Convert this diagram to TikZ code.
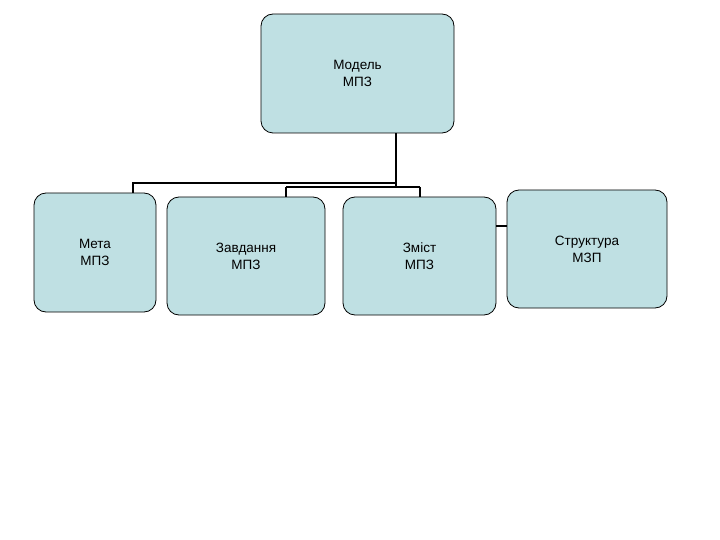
\documentclass[tikz,border=0pt]{standalone}
\usepackage{fontspec}
\setmainfont{Liberation Sans}
\definecolor{boxc}{HTML}{BFE0E3}
\begin{document}
\begin{tikzpicture}[x=1pt,y=-1pt,
 bx/.style={draw,thick,fill=boxc,rounded corners=12pt,align=center,font=\fontsize{13.5}{17}\selectfont,inner sep=0pt},
 ln/.style={line width=1.8pt}]
\useasboundingbox (0,0) rectangle (720,540);
\node[bx,minimum width=193pt,minimum height=119pt] (m) at (357.5,73.5) {Модель\\МПЗ};
\node[bx,minimum width=122pt,minimum height=119pt] (a) at (95,252.5) {Мета\\МПЗ};
\node[bx,minimum width=158pt,minimum height=118pt] (b) at (246,256) {Завдання\\МПЗ};
\node[bx,minimum width=153pt,minimum height=118pt] (c) at (419.5,256) {Зміст\\МПЗ};
\node[bx,minimum width=160pt,minimum height=118pt] (d) at (587,249) {Структура\\МЗП};
\coordinate (j1) at (396,183);
\coordinate (j2) at (396,187);
\draw[ln] (m.south -| j1) -- (j2);
\draw[ln] (j1) -| (a.north -| 133,0);
\draw[ln] (286,187) coordinate (l2) -- (420,187) coordinate (r2);
\draw[ln] (l2) -- (b.north -| l2);
\draw[ln] (r2) -- (c.north -| r2);
\draw[ln] (c.east |- 0,226) -- (d.west |- 0,226);
\end{tikzpicture}
\end{document}
